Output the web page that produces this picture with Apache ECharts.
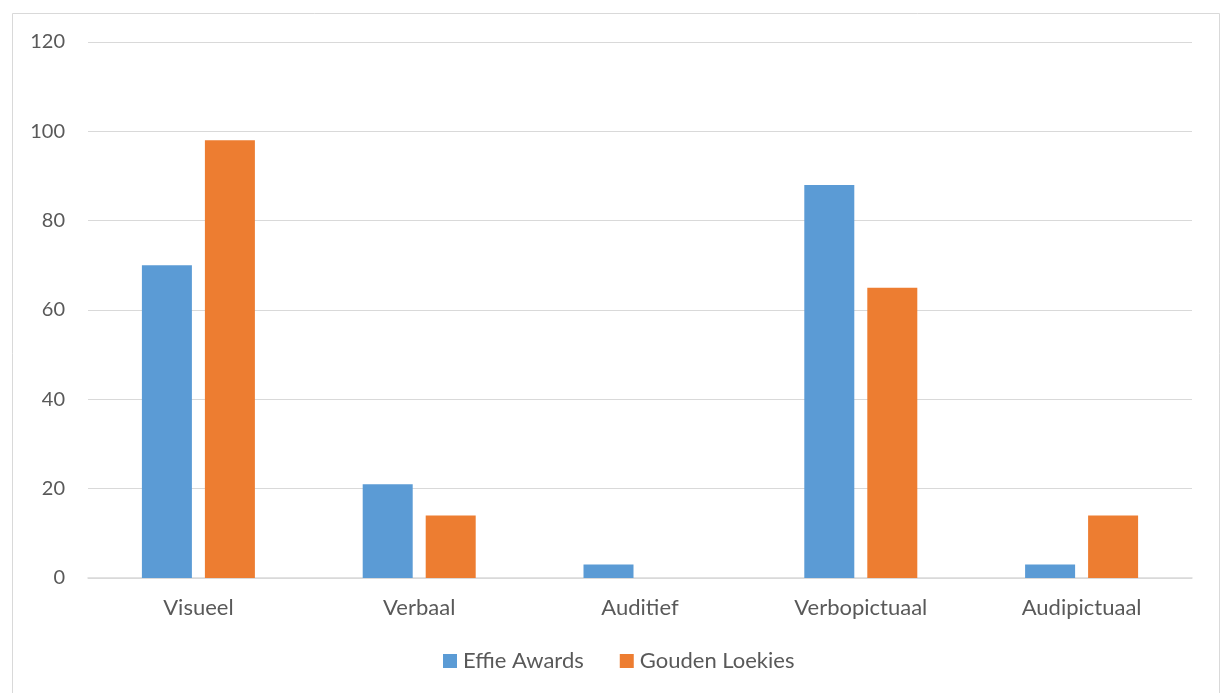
<!DOCTYPE html>
<html>
<head>
<meta charset="utf-8">
<style>
  html, body { margin: 0; padding: 0; background: #fff; }
  #chart { width: 1222px; height: 693px; }
</style>
<script src="https://cdn.jsdelivr.net/npm/echarts@6/dist/echarts.min.js"></script>
</head>
<body>
<div id="chart"></div>
<script>
// Modaliteit per categorie
const categories = ['Visueel', 'Verbaal', 'Auditief', 'Verbopictuaal', 'Audipictuaal'];
const effieAwards = [70, 21, 3, 88, 3];
const goudenLoekies = [98, 14, 0, 65, 14];
const seriesNames = ['Effie Awards', 'Gouden Loekies'];

const FONT = 'Lato, "Open Sans", sans-serif';
const TEXT = '#595959';

const chart = echarts.init(document.getElementById('chart'), null, { renderer: 'canvas' });
chart.setOption({
  animation: false,
  backgroundColor: '#ffffff',
  graphic: [{
    type: 'rect',
    shape: { x: 12.5, y: 13.5, width: 1207, height: 700 },
    style: { fill: 'none', stroke: '#d9d9d9', lineWidth: 1 },
    silent: true
  }],
  grid: { left: 88, right: 30, top: 42, bottom: 115, containLabel: false },
  legend: {
    data: seriesNames,
    top: 645,
    left: 438,
    itemWidth: 14,
    itemHeight: 14,
    itemGap: 36,
    icon: 'rect',
    textStyle: { color: TEXT, fontSize: 22, fontFamily: FONT, padding: [0, 0, 0, 1] }
  },
  xAxis: {
    type: 'category',
    data: categories,
    axisLine: { show: true, lineStyle: { color: '#d9d9d9', width: 1.5 } },
    axisTick: { show: false },
    axisLabel: { color: TEXT, fontSize: 22, fontFamily: FONT, margin: 19 }
  },
  yAxis: {
    type: 'value',
    min: 0,
    max: 120,
    interval: 20,
    axisLine: { show: false },
    axisTick: { show: false },
    splitLine: { lineStyle: { color: '#d9d9d9', width: 1 } },
    axisLabel: { color: TEXT, fontSize: 20, fontFamily: FONT, margin: 23 }
  },
  series: [
    {
      name: seriesNames[0],
      type: 'bar',
      data: effieAwards,
      barWidth: 50,
      barGap: '26%',
      itemStyle: { color: '#5b9bd5' }
    },
    {
      name: seriesNames[1],
      type: 'bar',
      data: goudenLoekies,
      barWidth: 50,
      itemStyle: { color: '#ed7d31' }
    }
  ]
});
</script>
</body>
</html>
